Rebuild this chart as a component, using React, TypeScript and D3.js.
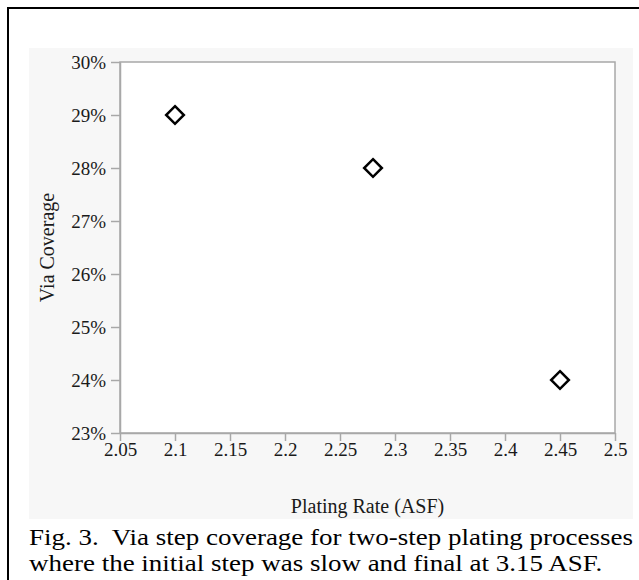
import React, { useEffect, useRef } from "react";
import * as d3 from "d3";

// plating rate (ASF) vs via coverage (%)
const platingRates = [2.1, 2.28, 2.45];
const viaCoverage = [29, 28, 24];
const xTicks = [2.05, 2.1, 2.15, 2.2, 2.25, 2.3, 2.35, 2.4, 2.45, 2.5];
const yTicks = [23, 24, 25, 26, 27, 28, 29, 30];
const captionLines = [
  "Fig. 3.  Via step coverage for two-step plating processes",
  "where the initial step was slow and final at 3.15 ASF.",
];

const W = 639;
const H = 580;
const plot = { left: 120, right: 615, top: 62, bottom: 433 };
const serif = "'Liberation Serif', 'Times New Roman', serif";

const App = () => {
  const svgRef = useRef<SVGSVGElement>(null);

  useEffect(() => {
    const svg = d3.select(svgRef.current);
    svg.selectAll("*").remove();

    // outer frame (continues past the right/bottom edges)
    svg.append("rect")
      .attr("x", 8).attr("y", 8)
      .attr("width", W + 20).attr("height", H + 20)
      .attr("fill", "#fff")
      .attr("stroke", "#000")
      .attr("stroke-width", 2);

    // grey chart panel
    svg.append("rect")
      .attr("x", 29).attr("y", 48)
      .attr("width", 604).attr("height", 471)
      .attr("fill", "#f7f7f7");

    const x = d3.scaleLinear().domain([2.05, 2.5]).range([plot.left, plot.right]);
    const y = d3.scaleLinear().domain([23, 30]).range([plot.bottom, plot.top]);

    svg.append("rect")
      .attr("x", plot.left).attr("y", plot.top)
      .attr("width", plot.right - plot.left).attr("height", plot.bottom - plot.top)
      .attr("fill", "#fff")
      .attr("stroke", "#a8a8a8")
      .attr("stroke-width", 1.5);

    const xAxis = svg.append("g")
      .attr("transform", `translate(0,${plot.bottom})`)
      .call(d3.axisBottom(x).tickValues(xTicks).tickSize(8).tickSizeOuter(0).tickPadding(2)
        .tickFormat(d => String(d)));
    const yAxis = svg.append("g")
      .attr("transform", `translate(${plot.left},0)`)
      .call(d3.axisLeft(y).tickValues(yTicks).tickSize(9).tickSizeOuter(0).tickPadding(5)
        .tickFormat(d => `${d}%`));

    [xAxis, yAxis].forEach(g => {
      g.attr("font-family", serif).attr("font-size", 19);
      g.select(".domain").attr("stroke", "#a8a8a8").attr("stroke-width", 1.5);
      g.selectAll(".tick line").attr("stroke", "#a8a8a8").attr("stroke-width", 1.5);
      g.selectAll(".tick text").attr("fill", "#1a1a1a");
    });

    // axis titles
    svg.append("text")
      .attr("x", (plot.left + plot.right) / 2)
      .attr("y", 513)
      .attr("text-anchor", "middle")
      .attr("fill", "#1a1a1a")
      .attr("font-family", serif)
      .attr("font-size", 20)
      .text("Plating Rate (ASF)");
    svg.append("text")
      .attr("transform", `translate(54,${(plot.top + plot.bottom) / 2}) rotate(-90)`)
      .attr("text-anchor", "middle")
      .attr("fill", "#1a1a1a")
      .attr("font-family", serif)
      .attr("font-size", 20)
      .text("Via Coverage");

    // diamond markers
    const diamond = d3.symbol().type(d3.symbolDiamond2).size(200);
    svg.append("g")
      .selectAll("path")
      .data(platingRates.map((r, i) => ({ r, v: viaCoverage[i] })))
      .join("path")
      .attr("d", diamond)
      .attr("transform", d => `translate(${x(d.r)},${y(d.v)})`)
      .attr("fill", "#fff")
      .attr("stroke", "#000")
      .attr("stroke-width", 2.5);

    // figure caption, widened like the reference's stretched text
    const caption = svg.append("g")
      .selectAll("text")
      .data(captionLines)
      .join("text")
      .attr("x", 29)
      .attr("y", (_, i) => 545 + i * 26)
      .attr("fill", "#000")
      .attr("font-family", serif)
      .attr("font-size", 24)
      .style("white-space", "pre")
      .text(d => d);

    const stretch = 604 / (caption.nodes()[0] as SVGTextElement).getComputedTextLength();
    caption.each(function () {
      const t = this as SVGTextElement;
      d3.select(t)
        .attr("textLength", t.getComputedTextLength() * stretch)
        .attr("lengthAdjust", "spacingAndGlyphs");
    });
  }, []);

  return (
    <svg
      ref={svgRef}
      width={W}
      height={H}
      style={{ position: "absolute", left: 0, top: 0 }}
    ></svg>
  );
};

export default App;
